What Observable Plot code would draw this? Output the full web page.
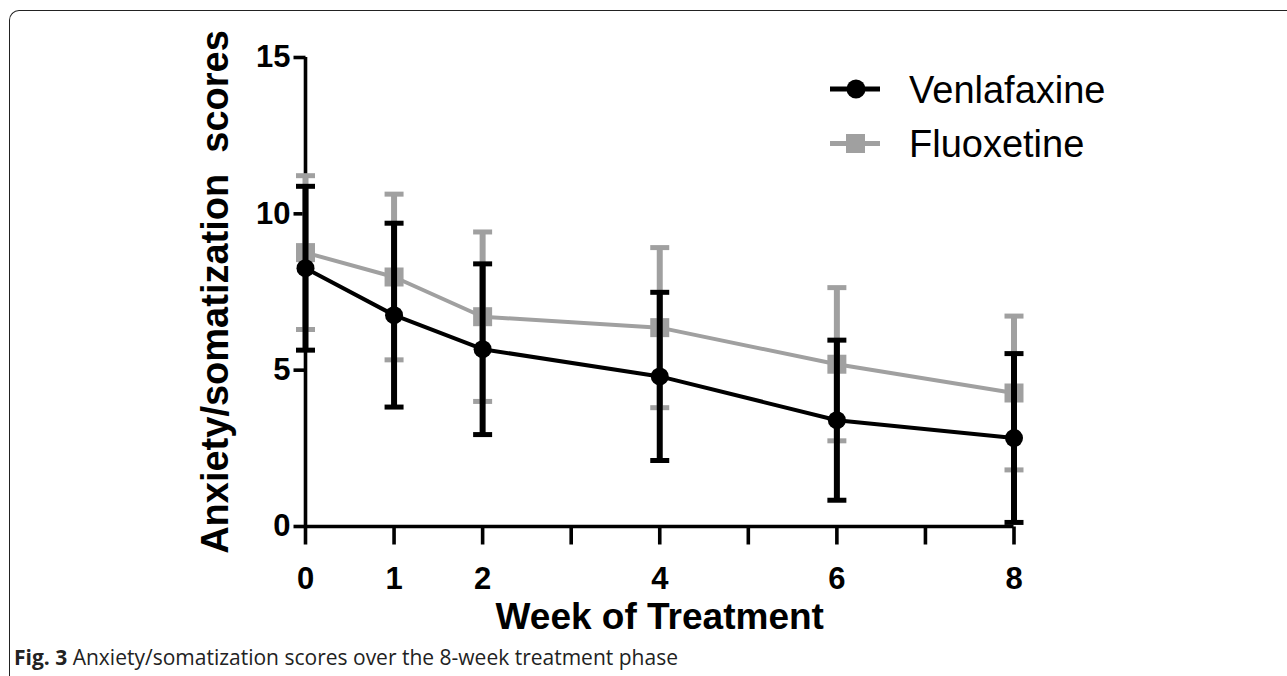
<!DOCTYPE html>
<html>
<head>
<meta charset="utf-8">
<script src="https://cdn.jsdelivr.net/npm/d3@7"></script>
<script src="https://cdn.jsdelivr.net/npm/@observablehq/plot@0.6"></script>
<style>
  html, body { margin: 0; padding: 0; background: #fff; }
  #wrap { position: relative; width: 1287px; height: 676px; overflow: hidden; background: #fff; }
  #frame { position: absolute; left: 9px; top: 10px; width: 1400px; height: 676px;
           border-top: 1.6px solid #222; border-left: 1.6px solid #222; border-bottom: 1.6px solid #222;
           border-radius: 10px 0 0 10px; box-sizing: border-box; }
  #chart { position: absolute; left: 0; top: 0; }
  #legend { position: absolute; left: 0; top: 0; }
  #caption { position: absolute; left: 14px; top: 645px; font-family: "Open Sans", "Noto Sans", sans-serif;
             font-size: 21px; color: #222; white-space: nowrap; line-height: 24px; }
  #caption b { font-weight: 700; }
</style>
</head>
<body>
<div id="wrap">
  <div id="frame"></div>
  <div id="chart"></div>
  <svg id="legend" width="1287" height="200"></svg>
  <div id="caption"><b>Fig. 3</b> Anxiety/somatization scores over the 8-week treatment phase</div>
</div>
<script>
// ---- data ----
const weeks = [0, 1, 2, 4, 6, 8];
const venlafaxineMean = [8.26, 6.76, 5.67, 4.80, 3.40, 2.83];
const venlafaxineSD   = [2.62, 2.94, 2.73, 2.69, 2.56, 2.70];
const fluoxetineMean  = [8.76, 7.98, 6.71, 6.36, 5.19, 4.27];
const fluoxetineSD    = [2.46, 2.65, 2.71, 2.56, 2.45, 2.46];
const seriesNames = ["Venlafaxine", "Fluoxetine"];
const xTicks = [0, 1, 2, 3, 4, 5, 6, 7, 8];
const xTickLabels = ["0", "1", "2", "", "4", "", "6", "", "8"];
const yTicks = [0, 5, 10, 15];
const xTitle = "Week of Treatment";
const yTitle = "Anxiety/somatization  scores";

// ---- build table ----
function rows(name, means, sds) {
  return weeks.map((w, i) => ({series: name, week: w, mean: means[i], lo: means[i] - sds[i], hi: means[i] + sds[i]}));
}
const ven = rows(seriesNames[0], venlafaxineMean, venlafaxineSD);
const flu = rows(seriesNames[1], fluoxetineMean, fluoxetineSD);

const BLACK = "#000";
const GREY = "#a0a0a0";

// custom symbols
const capSymbol = { draw(ctx, size) { const r = Math.sqrt(size / Math.PI); ctx.rect(-r, -2.5, 2 * r, 5); } };
const squareSymbol = { draw(ctx, size) { const r = Math.sqrt(size / Math.PI); ctx.rect(-r, -r, 2 * r, 2 * r); } };
const yTickSymbol = { draw(ctx) { ctx.rect(-12, -1.8, 12, 3.6); } };
const xTickSymbol = { draw(ctx) { ctx.rect(-1.8, 0, 3.6, 18); } };

function seriesMarks(data, color, symbol, markerR) {
  const capsData = data.flatMap(d => [{week: d.week, v: d.lo}, {week: d.week, v: d.hi}]);
  return [
    Plot.ruleX(data, {x: "week", y1: "lo", y2: "hi", stroke: color, strokeWidth: 6}),
    Plot.dot(capsData, {x: "week", y: "v", r: 9.5, symbol: capSymbol, fill: color, stroke: "none"}),
    Plot.line(data, {x: "week", y: "mean", stroke: color, strokeWidth: 4}),
    Plot.dot(data, {x: "week", y: "mean", r: markerR, symbol, fill: color, stroke: "none"})
  ];
}

const font = "'Liberation Sans', Arial, Helvetica, sans-serif";

const chart = Plot.plot({
  width: 1287,
  height: 640,
  marginLeft: 305,
  marginRight: 273.5,
  marginTop: 57,
  marginBottom: 114,
  x: {domain: [0, 8]},
  y: {domain: [0, 15]},
  style: {background: "transparent", fontFamily: font, color: "#000"},
  marks: [
    Plot.ruleY([0], {x1: () => 0, x2: () => 8, stroke: BLACK, strokeWidth: 3.6}),
    Plot.ruleX([0], {y1: () => 0, y2: () => 15, stroke: BLACK, strokeWidth: 3.6}),
    Plot.dot(yTicks, {x: () => 0, y: d => d, r: 5, symbol: yTickSymbol, fill: BLACK, stroke: "none"}),
    Plot.dot(xTicks, {x: d => d, y: () => 0, r: 5, symbol: xTickSymbol, fill: BLACK, stroke: "none"}),
    Plot.axisY({ticks: yTicks, tickSize: 0, tickPadding: 15, fontSize: 31, fontWeight: "bold", label: null, tickFormat: d => String(d)}),
    Plot.axisX({ticks: xTicks, tickSize: 0, tickPadding: 40, fontSize: 31, fontWeight: "bold", label: null,
                tickFormat: d => xTickLabels[xTicks.indexOf(d)]}),
    Plot.text([xTitle], {frameAnchor: "bottom", dy: 91, fontSize: 37, fontWeight: "bold", lineAnchor: "middle", text: d => d}),
    Plot.text([yTitle], {frameAnchor: "left", dx: -90, dy: 0, rotate: -90, fontSize: 38, fontWeight: "bold", lineAnchor: "middle", textAnchor: "middle", text: d => d}),
    ...seriesMarks(flu, GREY, squareSymbol, 9.5),
    ...seriesMarks(ven, BLACK, d3.symbolCircle, 9)
  ]
});
document.getElementById("chart").appendChild(chart);

// ---- legend ----
const lg = d3.select("#legend");
const legendItems = [
  {name: seriesNames[0], color: BLACK, shape: "circle"},
  {name: seriesNames[1], color: GREY, shape: "square"}
];
legendItems.forEach((it, i) => {
  const cy = 89 + i * 54.5;
  lg.append("line").attr("x1", 830).attr("x2", 880).attr("y1", cy).attr("y2", cy)
    .attr("stroke", it.color).attr("stroke-width", 5);
  if (it.shape === "circle") lg.append("circle").attr("cx", 856).attr("cy", cy).attr("r", 9.5).attr("fill", it.color);
  else lg.append("rect").attr("x", 846).attr("y", cy - 9.5).attr("width", 19).attr("height", 19).attr("fill", it.color);
  lg.append("text").attr("x", 909).attr("y", cy + 13.5).text(it.name)
    .attr("font-family", font).attr("font-size", 38).attr("fill", "#000");
});
</script>
</body>
</html>
